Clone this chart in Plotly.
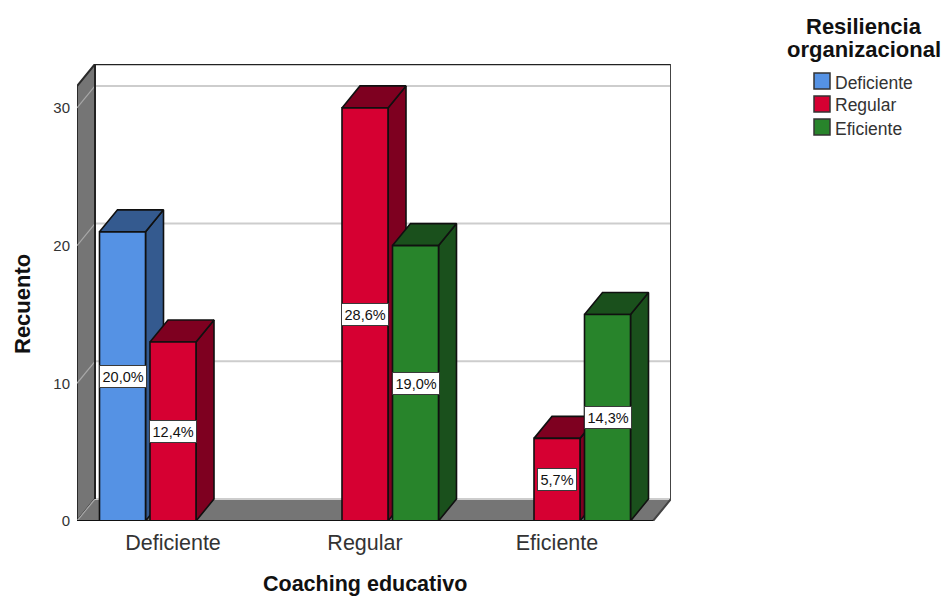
import plotly.graph_objects as go

categories = ["Deficiente", "Regular", "Eficiente"]
series_names = ["Deficiente", "Regular", "Eficiente"]
counts_deficiente = [21, 0, 0]
counts_regular = [13, 30, 6]
counts_eficiente = [0, 20, 15]
share_deficiente = ["20,0%", "", ""]
share_regular = ["12,4%", "28,6%", "5,7%"]
share_eficiente = ["", "19,0%", "14,3%"]
y_ticks = [0, 10, 20, 30]

front_colors = ["#5592E4", "#D60032", "#28842B"]
top_colors = ["#345A8F", "#7E0020", "#1A501C"]
side_colors = ["#345A8F", "#7E0020", "#1A501C"]
WALL = "#757575"
GRID = "#CDCDCD"
EDGE = "#101010"
FONT = "Liberation Sans"

# Pixel size of the plotting box, used to express the oblique depth in data units
PLOT_L, PLOT_R, PLOT_T, PLOT_B = 77, 671, 64, 521
W, H = 943, 599
PX_PER_CAT = 192.0
PX_PER_COUNT = 13.77
DX = 18 / PX_PER_CAT
DY = 22 / PX_PER_COUNT
X_MIN = -0.5
X_MAX = X_MIN + (PLOT_R - PLOT_L) / PX_PER_CAT
Y_MAX = (PLOT_B - PLOT_T) / PX_PER_COUNT
X_FRONT = X_MAX - DX
Y_FRONT = Y_MAX - DY
BAR_STEP = 50.5 / PX_PER_CAT
BAR_W = 46 / PX_PER_CAT

fig = go.Figure()


def poly(xs, ys, fill, line=EDGE, width=1.6):
    fig.add_trace(go.Scatter(
        x=xs + xs[:1], y=ys + ys[:1], mode="lines", fill="toself", fillcolor=fill,
        line=dict(color=line, width=width), hoverinfo="skip", showlegend=False,
    ))


def path(xs, ys, color, width):
    fig.add_trace(go.Scatter(
        x=xs, y=ys, mode="lines", line=dict(color=color, width=width),
        hoverinfo="skip", showlegend=False,
    ))


# Left wall and floor of the box
poly([X_MIN, X_MIN + DX, X_MIN + DX, X_MIN], [0, DY, Y_MAX, Y_FRONT], WALL, "#2A2A2A", 2)
poly([X_MIN, X_MIN + DX, X_MAX, X_FRONT], [0, DY, DY, 0], WALL, WALL, 1)

# Gridlines bend along the left wall and run across the back wall
for t in y_ticks:
    path([X_MIN, X_MIN + DX], [t, t + DY], "#A8A8A8", 1.2)
    path([X_MIN + DX, X_MAX], [t + DY, t + DY], GRID, 2)

# Back edges of the box
path([X_MIN + DX, X_MAX], [Y_MAX, Y_MAX], "#222222", 2.4)
path([X_MAX, X_MAX, X_FRONT], [Y_MAX, DY, 0], "#444444", 2)
path([X_MIN + DX, X_MIN + DX], [DY, Y_MAX], "#222222", 2)

all_counts = [counts_deficiente, counts_regular, counts_eficiente]
all_shares = [share_deficiente, share_regular, share_eficiente]

# Bars go left to right so each front face covers the neighbour's side face
bars = []
for c in range(len(categories)):
    for s in range(len(series_names)):
        v = all_counts[s][c]
        if v > 0:
            bars.append((c + (s - 1) * BAR_STEP, v, s, all_shares[s][c]))

for cx, v, s, share in bars:
    x0, x1 = cx - BAR_W / 2, cx + BAR_W / 2
    poly([x1, x1 + DX, x1 + DX, x1], [0, DY, v + DY, v], side_colors[s])
    poly([x0, x1, x1 + DX, x0 + DX], [v, v, v + DY, v + DY], top_colors[s])
    poly([x0, x1, x1, x0], [0, 0, v, v], front_colors[s])

# Front edge of the floor
path([X_MIN, X_FRONT], [0, 0], "#111111", 2)

annotations = [
    dict(x=cx, y=v / 2, xref="x", yref="y", text=share, showarrow=False,
         font=dict(family=FONT, size=14.5, color="#111111"), bgcolor="white",
         bordercolor="#3A3A3A", borderwidth=1, borderpad=2.5)
    for cx, v, s, share in bars
]


def to_px(px, py):
    return (px - PLOT_L) / (PLOT_R - PLOT_L), (PLOT_B - py) / (PLOT_B - PLOT_T)


def text(px, py, txt, size, bold=False, angle=0, color="#111111", anchor="center"):
    ax, ay = to_px(px, py)
    annotations.append(dict(
        x=ax, y=ay, xref="paper", yref="paper", text=f"<b>{txt}</b>" if bold else txt,
        showarrow=False, textangle=angle, xanchor=anchor, yanchor="middle",
        font=dict(family=FONT, size=size, color=color),
    ))


text(365, 584, "Coaching educativo", 21.5, bold=True)
text(22, 304, "Recuento", 22, bold=True, angle=-90)
text(864, 27, "Resiliencia", 22, bold=True)
text(864, 49, "organizacional", 22, bold=True)

# Legend block on the right
shapes = []
for i, name in enumerate(series_names):
    cy = 81 + 23 * i
    ax0, ay0 = to_px(814, cy - 8)
    ax1, ay1 = to_px(830, cy + 8)
    shapes.append(dict(type="rect", xref="paper", yref="paper", x0=ax0, x1=ax1, y0=ay0, y1=ay1,
                       fillcolor=front_colors[i], line=dict(color="#333333", width=1.5)))
    text(832.5, cy + 1.5, name, 17.5, color="#333333", anchor="left")

fig.update_layout(
    width=W, height=H, autosize=False,
    paper_bgcolor="white", plot_bgcolor="white",
    margin=dict(l=PLOT_L, r=W - PLOT_R, t=PLOT_T, b=H - PLOT_B, pad=0),
    showlegend=False,
    annotations=annotations, shapes=shapes,
    xaxis=dict(range=[X_MIN, X_MAX], tickmode="array", tickvals=list(range(len(categories))),
               ticktext=categories, showgrid=False, zeroline=False, showline=False, ticks="",
               tickfont=dict(family=FONT, size=21.5, color="#333333"), ticklabelstandoff=6),
    yaxis=dict(range=[0, Y_MAX], tickmode="array", tickvals=y_ticks, showgrid=False,
               zeroline=False, showline=False, ticks="", ticklabelstandoff=6,
               tickfont=dict(family=FONT, size=15, color="#333333")),
)

fig.write_html("out.html", config=dict(displayModeBar=False))
